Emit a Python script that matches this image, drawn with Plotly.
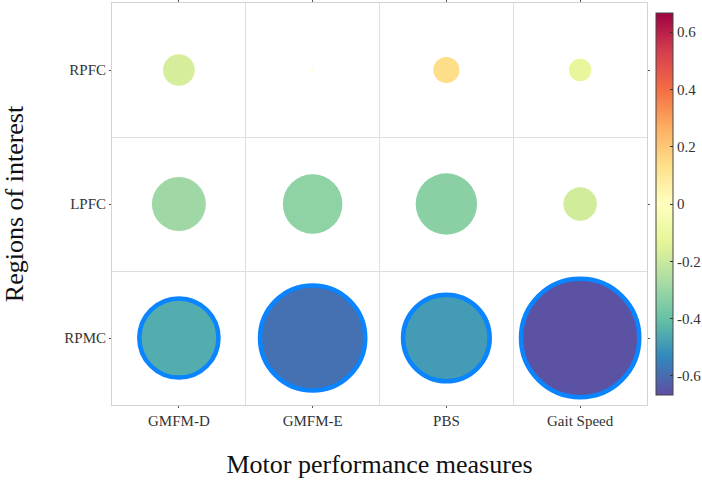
import plotly.graph_objects as go

measures = ["GMFM-D", "GMFM-E", "PBS", "Gait Speed"]
regions = ["RPFC", "LPFC", "RPMC"]
# correlation coefficients, rows = regions, columns = measures
r_rpfc = [-0.17, -0.01, 0.14, -0.12]
r_lpfc = [-0.29, -0.32, -0.33, -0.18]
r_rpmc = [-0.45, -0.59, -0.49, -0.66]
significant_rpfc = [False, False, False, False]
significant_lpfc = [False, False, False, False]
significant_rpmc = [True, True, True, True]

rows = [r_rpfc, r_lpfc, r_rpmc]
sigs = [significant_rpfc, significant_lpfc, significant_rpmc]

PX_PER_UNIT = 186.0
BORDER = 4.5

xs, ys, vals, sizes, lw = [], [], [], [], []
for i, (row, sig) in enumerate(zip(rows, sigs)):
    for j, v in enumerate(row):
        xs.append(j)
        ys.append(i)
        vals.append(v)
        w = BORDER if sig[j] else 0
        sizes.append(max(abs(v) * PX_PER_UNIT - w, 1.5))
        lw.append(w)

FONT = "Liberation Serif, Times New Roman, serif"

fig = go.Figure(go.Scatter(
    x=xs, y=ys, mode="markers",
    marker=dict(
        size=sizes, sizemode="diameter",
        color=vals, colorscale="Spectral_r", cmin=-0.667, cmax=0.667,
        line=dict(width=lw, color="#0a84ff"),
        opacity=1,
        colorbar=dict(
            x=(656 - 112) / 535, xanchor="left", xpad=0,
            y=0, yanchor="bottom", len=1.0, lenmode="fraction",
            thickness=17, outlinewidth=1, outlinecolor="#444",
            tickvals=[-0.6, -0.4, -0.2, 0, 0.2, 0.4, 0.6],
            ticktext=["-0.6", "-0.4", "-0.2", "0", "0.2", "0.4", "0.6"],
            ticks="inside", ticklen=3, tickcolor="#333",
            tickfont=dict(family=FONT, size=15, color="#333"),
        ),
    ),
    hoverinfo="skip", showlegend=False,
))

fig.update_xaxes(
    range=[-0.5, 3.5], tickvals=[0, 1, 2, 3], ticktext=measures,
    showgrid=False, zeroline=False,
    showline=True, mirror="allticks", linecolor="#d3d3d3", linewidth=1,
    ticks="outside", ticklen=2, tickcolor="#555",
    tickfont=dict(family=FONT, size=15, color="#333"),
    minor=dict(tickvals=[0.5, 1.5, 2.5], showgrid=True, gridcolor="#dedede", gridwidth=1, ticks=""),
    title=dict(text="Motor performance measures", font=dict(family=FONT, size=26, color="#111"), standoff=26),
)
fig.update_yaxes(
    range=[2.5, -0.5], tickvals=[0, 1, 2], ticktext=regions,
    showgrid=False, zeroline=False,
    showline=True, mirror="allticks", linecolor="#d3d3d3", linewidth=1,
    ticks="outside", ticklen=2, tickcolor="#555",
    tickfont=dict(family=FONT, size=15, color="#333"),
    minor=dict(tickvals=[0.5, 1.5], showgrid=True, gridcolor="#dedede", gridwidth=1, ticks=""),
    title=dict(text="Regions of interest", font=dict(family=FONT, size=26, color="#111"), standoff=34),
)

fig.update_layout(
    width=702, height=485,
    margin=dict(l=112, r=55, t=3, b=80, autoexpand=False),
    paper_bgcolor="white", plot_bgcolor="white",
    font=dict(family=FONT),
)

fig.write_html("out.html")
